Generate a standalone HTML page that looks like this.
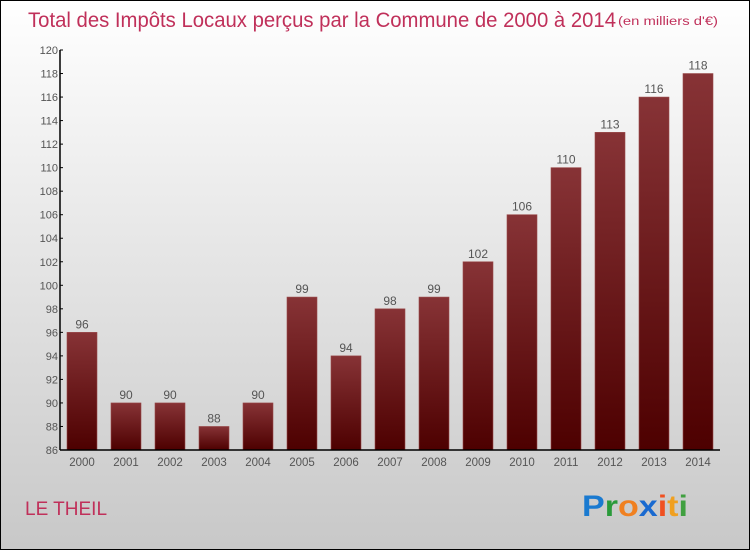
<!DOCTYPE html>
<html><head><meta charset="utf-8"><style>
html,body{margin:0;padding:0;width:750px;height:550px;overflow:hidden}
svg{display:block;font-family:"Liberation Sans",sans-serif}
</style></head><body>
<svg id="chart" width="750" height="550" xmlns="http://www.w3.org/2000/svg">
<defs>
<linearGradient id="bg" x1="0" y1="0" x2="0" y2="1"><stop offset="0" stop-color="#ffffff"/><stop offset="1" stop-color="#c8c8c8"/></linearGradient>
<linearGradient id="bar" x1="0" y1="0" x2="0" y2="1"><stop offset="0" stop-color="#873336"/><stop offset="1" stop-color="#4d0000"/></linearGradient>
</defs>
<rect x="0.5" y="0.5" width="749" height="549" fill="url(#bg)" stroke="#000"/>
<text x="28" y="27" font-size="21" fill="#c0305a" textLength="588" lengthAdjust="spacingAndGlyphs">Total des Impôts Locaux perçus par la Commune de 2000 à 2014</text>
<text x="618" y="25" font-size="11.5" fill="#c0305a" textLength="100" lengthAdjust="spacingAndGlyphs">(en milliers d'€)</text>
<g id="yaxis"></g>
<g id="bars"></g>
<g id="xaxis"></g>
<text x="25" y="515" font-size="19" fill="#c0305a">LE THEIL</text>
<text x="582" y="516" font-size="30" font-weight="bold" textLength="106" lengthAdjust="spacingAndGlyphs"><tspan fill="#1a7ad0">P</tspan><tspan fill="#2a9a3a">r</tspan><tspan fill="#f08020">o</tspan><tspan fill="#1a6ad0">x</tspan><tspan fill="#f05020">i</tspan><tspan fill="#f0a020">t</tspan><tspan fill="#40a040">i</tspan></text>
</svg>
<script>
const categories=["2000","2001","2002","2003","2004","2005","2006","2007","2008","2009","2010","2011","2012","2013","2014"];
const values=[96,90,90,88,90,99,94,98,99,102,106,110,113,116,118];
const yTicks=[86,88,90,92,94,96,98,100,102,104,106,108,110,112,114,116,118,120];
const NS="http://www.w3.org/2000/svg";
const yMin=86,yMax=120,y0=450,y1=50,x0=60,x1=720;
const yS=v=>y0-(v-yMin)*(y0-y1)/(yMax-yMin);
const step=44,xS=i=>82+i*step,bw=30;
function mk(t,a,p){const e=document.createElementNS(NS,t);for(const k in a)e.setAttribute(k,a[k]);p.appendChild(e);return e;}
const ya=document.getElementById('yaxis'),ba=document.getElementById('bars'),xa=document.getElementById('xaxis');
const al=mk('line',{x1:x0,y1:y1,x2:x0,y2:y0,stroke:'#000','stroke-width':1.5},ya);


yTicks.forEach(v=>{
 const y=yS(v);
 const t=mk('line',{x1:x0,y1:y,x2:x0+3,y2:y,stroke:'#000'},ya);
 
 
 const l=mk('text',{x:x0-2,y:y+4,'font-size':11,'text-anchor':'end',fill:'#555'},ya);
 l.textContent=v;
 
 
});
values.forEach((v,i)=>{
 const cx=xS(i),y=yS(v);
 const r=mk('rect',{x:cx-bw/2,y:y,width:bw,height:y0-y,fill:'url(#bar)',stroke:'#9a4a4a','stroke-width':0.6},ba);
 
 
 const t=mk('text',{x:cx,y:y-4,'font-size':12,'text-anchor':'middle',fill:'#555'},ba);
 t.textContent=v;
 
 
 const c=mk('text',{x:cx,y:466,'font-size':11.5,'text-anchor':'middle',fill:'#555'},xa);
 c.textContent=categories[i];
 
 
});
const xl=mk('line',{x1:x0,y1:y0,x2:x1,y2:y0,stroke:'#000','stroke-width':1.5},xa);


</script>
</body></html>
